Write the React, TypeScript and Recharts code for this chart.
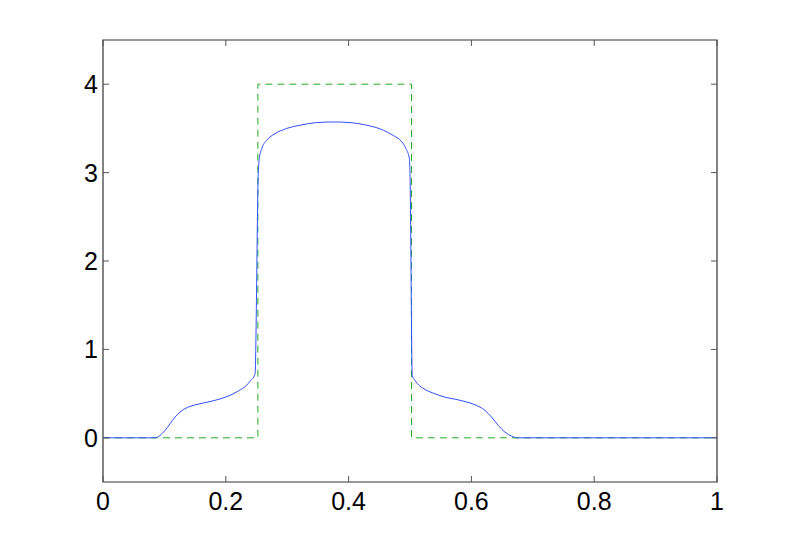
import React from 'react';
import { LineChart, Line, XAxis, YAxis, ReferenceArea } from 'recharts';

// numerical solution (blue)
const solX = [
  0, 0.08, 0.0847, 0.0928, 0.101, 0.1091, 0.1173, 0.1254, 0.1336, 0.1417, 0.158, 0.1743, 0.1906,
  0.2068, 0.2204, 0.234, 0.2394, 0.2476, 0.2529, 0.2546, 0.2585, 0.2666, 0.2801, 0.2992, 0.3208,
  0.348, 0.3751, 0.4023, 0.4295, 0.4565, 0.4728, 0.4865, 0.4935, 0.4989, 0.5, 0.5037, 0.5081,
  0.5163, 0.5244, 0.5407, 0.557, 0.5733, 0.5896, 0.6059, 0.6221, 0.633, 0.6438, 0.6547, 0.6656,
  0.6737, 0.7, 1,
];
const solY = [
  0, 0, 0, 0.026, 0.083, 0.158, 0.234, 0.29, 0.33, 0.355, 0.385, 0.41, 0.44, 0.48, 0.53, 0.595,
  0.64, 0.72, 2.99, 3.16, 3.27, 3.366, 3.44, 3.5, 3.536, 3.566, 3.573, 3.566, 3.536, 3.48, 3.42,
  3.35, 3.27, 3.16, 2.99, 0.705, 0.65, 0.584, 0.547, 0.498, 0.46, 0.437, 0.41, 0.374, 0.31, 0.233,
  0.14, 0.063, 0.018, 0, 0, 0,
];

// exact solution (green dashed step)
const exactX = [0, 0.2522, 0.2522, 0.5025, 0.5025, 1];
const exactY = [0, 0, 4, 4, 0, 0];

const xTicks = [0, 0.2, 0.4, 0.6, 0.8, 1];
const xTickLabels = ['0', '0.2', '0.4', '0.6', '0.8', '1'];
const yTicks = [0, 1, 2, 3, 4];
const yTickLabels = ['0', '1', '2', '3', '4'];

const solData = solX.map((x, i) => ({ x, y: solY[i] }));
const exactData = exactX.map((x, i) => ({ x, y: exactY[i] }));

const W = 793;
const H = 542;
const BOX = { left: 103, top: 40, right: 717, bottom: 482 };
const TICK_LEN = 6;
const FONT = '"Liberation Sans", Arial, Helvetica, sans-serif';

function XTick(props: any) {
  const { x, payload, index } = props;
  return (
    <g>
      <line x1={x} y1={BOX.bottom} x2={x} y2={BOX.bottom - TICK_LEN} stroke="#555" />
      <line x1={x} y1={BOX.top} x2={x} y2={BOX.top + TICK_LEN} stroke="#555" />
      <text x={x} y={BOX.bottom + 28} textAnchor="middle" fontSize={25} fontFamily={FONT} fill="#000">
        {xTickLabels[index] ?? payload.value}
      </text>
    </g>
  );
}

function YTick(props: any) {
  const { y, payload, index } = props;
  return (
    <g>
      <line x1={BOX.left} y1={y} x2={BOX.left + TICK_LEN} y2={y} stroke="#555" />
      <line x1={BOX.right} y1={y} x2={BOX.right - TICK_LEN} y2={y} stroke="#555" />
      <text x={BOX.left - 5} y={y} dy="0.36em" textAnchor="end" fontSize={25} fontFamily={FONT} fill="#000">
        {yTickLabels[index] ?? payload.value}
      </text>
    </g>
  );
}

export default function App() {
  return (
    <div style={{ position: 'absolute', left: 0, top: 0, width: W, height: H, background: '#fff' }}>
      <LineChart
        width={W}
        height={H}
        margin={{ top: BOX.top, right: W - BOX.right, bottom: 0, left: 0 }}
      >
        <XAxis
          type="number"
          dataKey="x"
          domain={[0, 1]}
          ticks={xTicks}
          tick={<XTick />}
          tickLine={false}
          axisLine={false}
          height={H - BOX.bottom}
          allowDataOverflow
        />
        <YAxis
          type="number"
          dataKey="y"
          domain={[-0.5, 4.5]}
          ticks={yTicks}
          tick={<YTick />}
          tickLine={false}
          axisLine={false}
          width={BOX.left}
          allowDataOverflow
        />
        <ReferenceArea x1={0} x2={1} y1={-0.5} y2={4.5} fill="none" stroke="#333" strokeWidth={1.2} />
        <Line
          data={exactData}
          dataKey="y"
          type="linear"
          stroke="#22aa22"
          strokeWidth={1}
          strokeDasharray="7 5"
          dot={false}
          isAnimationActive={false}
        />
        <Line
          data={solData}
          dataKey="y"
          type="monotone"
          stroke="#2f50ff"
          strokeWidth={1}
          dot={false}
          isAnimationActive={false}
        />
      </LineChart>
    </div>
  );
}
